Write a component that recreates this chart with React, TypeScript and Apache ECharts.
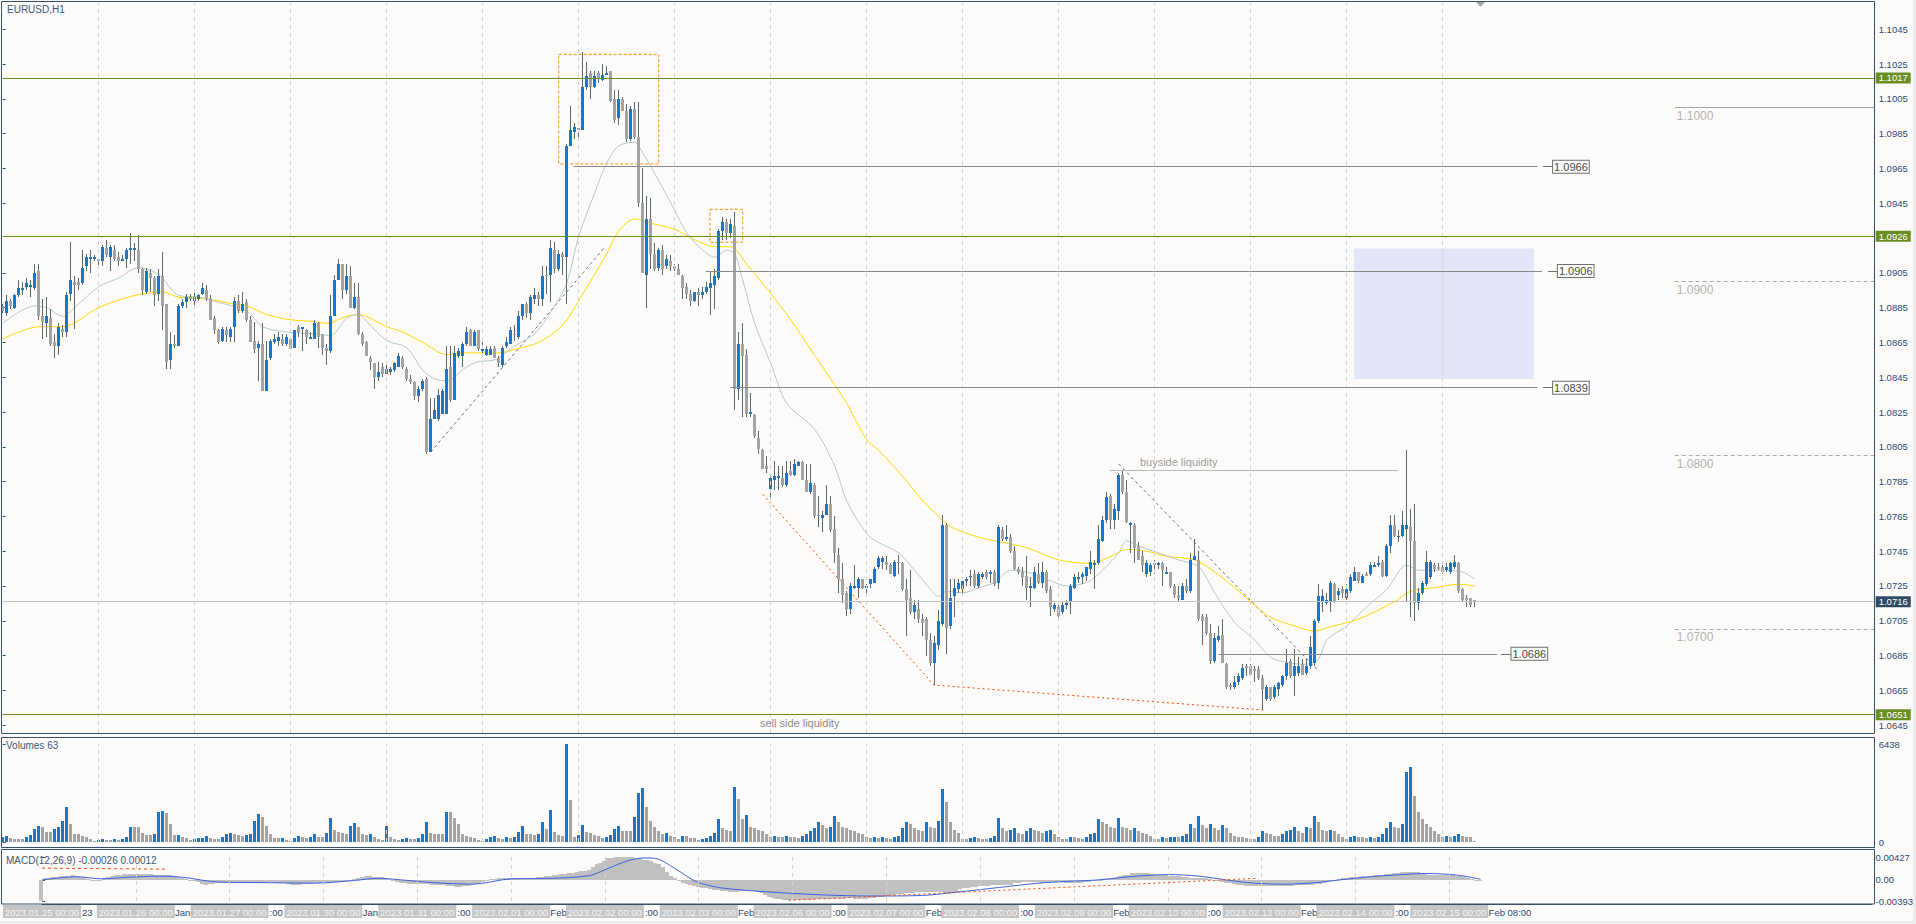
import React, { useEffect, useRef } from "react";
import * as echarts from "echarts";

// ---------------- data ----------------
const symbolTitle = "EURUSD,H1";
const dayFull = ["2023.01.25","2023.01.26","2023.01.27","2023.01.30","2023.01.31","2023.02.01","2023.02.02","2023.02.03","2023.02.06","2023.02.07","2023.02.08","2023.02.09","2023.02.10","2023.02.13","2023.02.14","2023.02.15"];
const dayShort = ["25 Jan","26 Jan","27 Jan","30 Jan","31 Jan","1 Feb","2 Feb","3 Feb","6 Feb","7 Feb","8 Feb","9 Feb","10 Feb","13 Feb","14 Feb","15 Feb"];
const firstYear = "2023";
const barsPerDay = 24;
const timeTicks = [0,16,32,48,64,80,96,112,128,144,160,176,192,208,224,240,256,272,288,304,320,336,352,368];
const dayStarts = [0,24,48,72,96,120,144,168,192,216,240,264,288,312,336,360];
// 1.0925 is hidden behind the 1.0926 level tag in the reference
const priceTicks = [1.1045,1.1025,1.1005,1.0985,1.0965,1.0945,1.0905,1.0885,1.0865,1.0845,1.0825,1.0805,1.0785,1.0765,1.0745,1.0725,1.0705,1.0685,1.0665,1.0645];
const priceMin = 1.06405, priceMax = 1.10601;
const volMax = 6438;
const macdMin = -0.00393, macdMax = 0.00427;

// [open, high, low, close] per H1 bar
const ohlc = [
[1.0886,1.0887,1.0882,1.0883],[1.0882,1.0892,1.0880,1.0889],[1.0889,1.0890,1.0884,1.0886],[1.0885,1.0893,1.0884,1.0892],[1.0892,1.0901,1.0891,1.0896],
[1.0895,1.0900,1.0892,1.0896],[1.0897,1.0902,1.0895,1.0899],[1.0897,1.0901,1.0891,1.0898],[1.0896,1.0910,1.0895,1.0905],[1.0906,1.0910,1.0878,1.0880],
[1.0880,1.0890,1.0867,1.0877],[1.0876,1.0891,1.0868,1.0880],[1.0879,1.0884,1.0863,1.0864],[1.0865,1.0870,1.0856,1.0863],[1.0863,1.0876,1.0858,1.0874],
[1.0873,1.0875,1.0868,1.0871],[1.0871,1.0894,1.0868,1.0892],[1.0893,1.0923,1.0889,1.0901],[1.0900,1.0903,1.0873,1.0898],[1.0900,1.0902,1.0895,1.0898],
[1.0899,1.0918,1.0898,1.0908],[1.0909,1.0916,1.0906,1.0914],[1.0913,1.0918,1.0905,1.0914],[1.0913,1.0915,1.0912,1.0914],[1.0913,1.0914,1.0909,1.0912],
[1.0912,1.0921,1.0909,1.0920],[1.0919,1.0924,1.0914,1.0915],[1.0914,1.0921,1.0906,1.0920],[1.0918,1.0921,1.0912,1.0913],[1.0914,1.0917,1.0909,1.0912],
[1.0912,1.0915,1.0912,1.0913],[1.0913,1.0919,1.0908,1.0918],[1.0918,1.0928,1.0910,1.0919],[1.0918,1.0922,1.0912,1.0919],[1.0918,1.0927,1.0905,1.0907],
[1.0907,1.0908,1.0892,1.0895],[1.0894,1.0908,1.0893,1.0906],[1.0905,1.0907,1.0894,1.0902],[1.0902,1.0903,1.0886,1.0892],[1.0893,1.0907,1.0889,1.0903],
[1.0903,1.0917,1.0872,1.0886],[1.0887,1.0887,1.0850,1.0854],[1.0855,1.0871,1.0850,1.0864],[1.0864,1.0869,1.0862,1.0863],[1.0863,1.0887,1.0863,1.0886],
[1.0886,1.0890,1.0885,1.0888],[1.0888,1.0893,1.0885,1.0891],[1.0891,1.0893,1.0889,1.0890],[1.0889,1.0894,1.0885,1.0891],[1.0890,1.0893,1.0889,1.0892],
[1.0893,1.0899,1.0892,1.0896],[1.0895,1.0898,1.0889,1.0890],[1.0890,1.0892,1.0878,1.0878],[1.0879,1.0880,1.0870,1.0872],[1.0872,1.0873,1.0864,1.0865],
[1.0866,1.0874,1.0865,1.0873],[1.0872,1.0874,1.0865,1.0869],[1.0868,1.0874,1.0865,1.0873],[1.0874,1.0891,1.0865,1.0889],[1.0889,1.0892,1.0882,1.0883],
[1.0883,1.0894,1.0882,1.0887],[1.0888,1.0890,1.0877,1.0878],[1.0878,1.0880,1.0865,1.0865],[1.0866,1.0877,1.0859,1.0861],[1.0862,1.0866,1.0843,1.0864],
[1.0864,1.0876,1.0837,1.0837],[1.0837,1.0866,1.0837,1.0855],[1.0856,1.0867,1.0855,1.0866],[1.0865,1.0870,1.0864,1.0867],[1.0866,1.0871,1.0863,1.0868],
[1.0867,1.0870,1.0863,1.0864],[1.0864,1.0870,1.0863,1.0868],[1.0867,1.0868,1.0861,1.0861],[1.0862,1.0872,1.0862,1.0872],[1.0874,1.0875,1.0868,1.0871],
[1.0873,1.0874,1.0860,1.0874],[1.0872,1.0873,1.0864,1.0868],[1.0867,1.0871,1.0867,1.0868],[1.0867,1.0878,1.0867,1.0876],[1.0876,1.0877,1.0862,1.0868],
[1.0869,1.0870,1.0858,1.0862],[1.0862,1.0864,1.0852,1.0860],[1.0860,1.0892,1.0859,1.0880],[1.0880,1.0904,1.0880,1.0901],[1.0901,1.0913,1.0901,1.0910],
[1.0910,1.0910,1.0890,1.0895],[1.0895,1.0910,1.0893,1.0903],[1.0903,1.0909,1.0885,1.0885],[1.0885,1.0899,1.0884,1.0891],[1.0891,1.0899,1.0869,1.0870],
[1.0870,1.0871,1.0863,1.0864],[1.0865,1.0866,1.0857,1.0857],[1.0856,1.0857,1.0849,1.0854],[1.0853,1.0853,1.0838,1.0845],[1.0845,1.0854,1.0843,1.0848],
[1.0851,1.0853,1.0845,1.0847],[1.0847,1.0852,1.0847,1.0850],[1.0848,1.0851,1.0846,1.0850],[1.0849,1.0854,1.0848,1.0853],[1.0851,1.0859,1.0851,1.0857],
[1.0856,1.0857,1.0850,1.0851],[1.0850,1.0851,1.0843,1.0844],[1.0844,1.0846,1.0841,1.0842],[1.0842,1.0843,1.0832,1.0834],[1.0834,1.0840,1.0831,1.0838],
[1.0838,1.0844,1.0837,1.0843],[1.0844,1.0845,1.0801,1.0802],[1.0802,1.0833,1.0802,1.0821],[1.0821,1.0833,1.0821,1.0826],[1.0821,1.0838,1.0820,1.0835],
[1.0824,1.0838,1.0824,1.0837],[1.0824,1.0863,1.0824,1.0850],[1.0851,1.0863,1.0831,1.0832],[1.0832,1.0863,1.0832,1.0859],[1.0857,1.0862,1.0856,1.0860],
[1.0857,1.0865,1.0851,1.0864],[1.0864,1.0874,1.0863,1.0871],[1.0872,1.0873,1.0863,1.0863],[1.0863,1.0872,1.0863,1.0871],[1.0872,1.0872,1.0860,1.0861],
[1.0860,1.0865,1.0858,1.0861],[1.0858,1.0863,1.0857,1.0861],[1.0858,1.0863,1.0858,1.0861],[1.0862,1.0863,1.0856,1.0856],[1.0856,1.0857,1.0851,1.0853],
[1.0852,1.0863,1.0851,1.0862],[1.0863,1.0868,1.0862,1.0865],[1.0864,1.0874,1.0864,1.0872],[1.0870,1.0875,1.0866,1.0869],[1.0868,1.0883,1.0867,1.0880],
[1.0880,1.0887,1.0878,1.0887],[1.0887,1.0888,1.0879,1.0882],[1.0882,1.0892,1.0878,1.0891],[1.0890,1.0896,1.0887,1.0892],[1.0892,1.0894,1.0886,1.0890],
[1.0890,1.0909,1.0886,1.0903],[1.0904,1.0909,1.0893,1.0903],[1.0904,1.0924,1.0888,1.0919],[1.0918,1.0923,1.0905,1.0907],[1.0907,1.0918,1.0906,1.0916],
[1.0916,1.0917,1.0904,1.0914],[1.0914,1.0979,1.0887,1.0978],[1.0978,1.1001,1.0978,1.0987],[1.0986,1.0991,1.0982,1.0989],[1.0988,1.0988,1.0982,1.0987],
[1.0987,1.1032,1.0987,1.1012],[1.1012,1.1026,1.1010,1.1018],[1.1020,1.1021,1.1005,1.1012],[1.1012,1.1021,1.1011,1.1018],[1.1020,1.1021,1.1014,1.1017],
[1.1016,1.1025,1.1015,1.1019],[1.1019,1.1024,1.1019,1.1020],[1.1021,1.1021,1.1003,1.1004],[1.1005,1.1010,1.0991,1.0993],[1.0994,1.1010,1.0990,1.1005],
[1.1005,1.1006,1.0998,1.0998],[1.0998,1.1002,1.0980,1.0982],[1.0982,1.1001,1.0981,1.0999],[1.0999,1.1003,1.0982,1.0983],[1.0983,1.1003,1.0943,1.0945],
[1.0945,1.0965,1.0905,1.0905],[1.0904,1.0949,1.0885,1.0936],[1.0936,1.0948,1.0907,1.0916],[1.0916,1.0922,1.0906,1.0907],[1.0908,1.0919,1.0906,1.0918],
[1.0918,1.0921,1.0904,1.0907],[1.0909,1.0915,1.0907,1.0913],[1.0912,1.0915,1.0906,1.0909],[1.0909,1.0910,1.0906,1.0907],[1.0907,1.0910,1.0904,1.0904],
[1.0903,1.0904,1.0890,1.0896],[1.0897,1.0899,1.0890,1.0893],[1.0893,1.0895,1.0886,1.0889],[1.0889,1.0894,1.0888,1.0894],[1.0894,1.0896,1.0886,1.0892],
[1.0892,1.0897,1.0890,1.0894],[1.0894,1.0900,1.0893,1.0897],[1.0896,1.0906,1.0881,1.0899],[1.0898,1.0907,1.0884,1.0903],[1.0902,1.0930,1.0901,1.0929],
[1.0929,1.0937,1.0924,1.0934],[1.0934,1.0936,1.0924,1.0928],[1.0928,1.0936,1.0925,1.0933],[1.0932,1.0940,1.0826,1.0838],[1.0838,1.0871,1.0832,1.0864],
[1.0864,1.0876,1.0822,1.0857],[1.0858,1.0861,1.0822,1.0824],[1.0824,1.0836,1.0822,1.0825],[1.0823,1.0824,1.0810,1.0811],[1.0810,1.0814,1.0801,1.0804],
[1.0803,1.0804,1.0792,1.0792],[1.0794,1.0800,1.0790,1.0792],[1.0781,1.0790,1.0776,1.0787],[1.0786,1.0797,1.0780,1.0788],[1.0787,1.0794,1.0780,1.0788],
[1.0787,1.0794,1.0782,1.0783],[1.0783,1.0797,1.0782,1.0790],[1.0791,1.0797,1.0788,1.0789],[1.0789,1.0798,1.0788,1.0795],[1.0794,1.0797,1.0794,1.0796],
[1.0796,1.0797,1.0786,1.0786],[1.0786,1.0795,1.0779,1.0779],[1.0779,1.0795,1.0778,1.0784],[1.0783,1.0784,1.0764,1.0765],[1.0766,1.0777,1.0759,1.0765],
[1.0764,1.0768,1.0756,1.0766],[1.0766,1.0783,1.0766,1.0772],[1.0772,1.0777,1.0756,1.0757],[1.0758,1.0765,1.0738,1.0744],[1.0743,1.0747,1.0721,1.0729],
[1.0729,1.0738,1.0715,1.0720],[1.0721,1.0722,1.0708,1.0712],[1.0712,1.0727,1.0709,1.0725],[1.0724,1.0737,1.0723,1.0725],[1.0724,1.0730,1.0718,1.0729],
[1.0729,1.0729,1.0723,1.0724],[1.0724,1.0726,1.0720,1.0725],[1.0726,1.0729,1.0724,1.0729],[1.0727,1.0736,1.0727,1.0735],[1.0736,1.0742,1.0735,1.0741],
[1.0739,1.0742,1.0735,1.0741],[1.0739,1.0742,1.0734,1.0737],[1.0737,1.0738,1.0732,1.0732],[1.0731,1.0740,1.0730,1.0739],[1.0739,1.0743,1.0732,1.0738],
[1.0738,1.0739,1.0722,1.0723],[1.0723,1.0729,1.0696,1.0717],[1.0718,1.0734,1.0709,1.0710],[1.0710,1.0717,1.0706,1.0714],[1.0712,1.0717,1.0704,1.0706],
[1.0706,1.0709,1.0696,1.0704],[1.0706,1.0707,1.0685,1.0694],[1.0694,1.0698,1.0679,1.0681],[1.0681,1.0696,1.0668,1.0692],[1.0691,1.0711,1.0688,1.0705],
[1.0703,1.0766,1.0702,1.0760],[1.0760,1.0761,1.0686,1.0701],[1.0702,1.0729,1.0700,1.0718],[1.0719,1.0729,1.0707,1.0724],[1.0723,1.0729,1.0721,1.0727],
[1.0723,1.0730,1.0720,1.0728],[1.0728,1.0730,1.0725,1.0729],[1.0730,1.0734,1.0725,1.0731],[1.0732,1.0734,1.0724,1.0725],[1.0725,1.0733,1.0724,1.0732],
[1.0730,1.0733,1.0729,1.0732],[1.0733,1.0734,1.0729,1.0730],[1.0732,1.0734,1.0727,1.0733],[1.0733,1.0734,1.0725,1.0726],[1.0727,1.0760,1.0723,1.0759],
[1.0757,1.0759,1.0751,1.0752],[1.0752,1.0760,1.0751,1.0753],[1.0753,1.0755,1.0744,1.0745],[1.0745,1.0748,1.0734,1.0735],[1.0735,1.0736,1.0732,1.0733],
[1.0733,1.0736,1.0725,1.0730],[1.0731,1.0742,1.0717,1.0724],[1.0724,1.0730,1.0713,1.0725],[1.0724,1.0736,1.0723,1.0733],[1.0732,1.0738,1.0726,1.0727],
[1.0727,1.0739,1.0724,1.0733],[1.0733,1.0734,1.0721,1.0722],[1.0723,1.0725,1.0708,1.0713],[1.0712,1.0715,1.0710,1.0714],[1.0713,1.0714,1.0707,1.0708],
[1.0710,1.0716,1.0709,1.0714],[1.0714,1.0717,1.0712,1.0715],[1.0716,1.0726,1.0709,1.0725],[1.0724,1.0732,1.0723,1.0730],[1.0729,1.0733,1.0727,1.0730],
[1.0730,1.0733,1.0726,1.0732],[1.0731,1.0736,1.0728,1.0736],[1.0735,1.0745,1.0732,1.0739],[1.0737,1.0740,1.0723,1.0738],[1.0738,1.0760,1.0737,1.0752],
[1.0751,1.0765,1.0750,1.0763],[1.0763,1.0779,1.0761,1.0776],[1.0777,1.0778,1.0758,1.0763],[1.0763,1.0772,1.0758,1.0769],[1.0768,1.0790,1.0763,1.0789],
[1.0789,1.0791,1.0778,1.0779],[1.0779,1.0786,1.0761,1.0762],[1.0760,1.0762,1.0744,1.0761],[1.0760,1.0761,1.0738,1.0747],[1.0748,1.0750,1.0740,1.0740],
[1.0742,1.0745,1.0733,1.0737],[1.0732,1.0740,1.0730,1.0738],[1.0733,1.0738,1.0731,1.0737],[1.0738,1.0740,1.0732,1.0737],[1.0737,1.0739,1.0735,1.0738],
[1.0738,1.0739,1.0725,1.0734],[1.0732,1.0736,1.0732,1.0733],[1.0733,1.0733,1.0724,1.0725],[1.0725,1.0726,1.0718,1.0720],[1.0720,1.0725,1.0716,1.0718],
[1.0717,1.0727,1.0717,1.0725],[1.0725,1.0729,1.0721,1.0722],[1.0722,1.0744,1.0721,1.0740],[1.0740,1.0752,1.0740,1.0742],[1.0740,1.0745,1.0705,1.0706],
[1.0708,1.0709,1.0691,1.0705],[1.0707,1.0709,1.0697,1.0698],[1.0698,1.0703,1.0680,1.0682],[1.0682,1.0698,1.0681,1.0695],[1.0694,1.0702,1.0693,1.0696],
[1.0697,1.0706,1.0681,1.0681],[1.0680,1.0681,1.0666,1.0667],[1.0668,1.0669,1.0665,1.0667],[1.0667,1.0673,1.0666,1.0670],[1.0670,1.0675,1.0668,1.0673],
[1.0672,1.0680,1.0671,1.0678],[1.0679,1.0680,1.0673,1.0678],[1.0679,1.0680,1.0673,1.0674],[1.0677,1.0679,1.0670,1.0676],[1.0677,1.0679,1.0671,1.0672],
[1.0672,1.0674,1.0654,1.0666],[1.0660,1.0668,1.0659,1.0667],[1.0667,1.0667,1.0659,1.0660],[1.0661,1.0668,1.0660,1.0667],[1.0666,1.0670,1.0662,1.0669],
[1.0668,1.0674,1.0667,1.0673],[1.0673,1.0689,1.0671,1.0681],[1.0682,1.0683,1.0672,1.0673],[1.0673,1.0689,1.0662,1.0679],[1.0675,1.0684,1.0673,1.0679],
[1.0680,1.0683,1.0674,1.0674],[1.0675,1.0683,1.0674,1.0679],[1.0679,1.0696,1.0677,1.0690],[1.0681,1.0706,1.0679,1.0705],[1.0705,1.0726,1.0704,1.0719],
[1.0716,1.0723,1.0710,1.0719],[1.0715,1.0721,1.0714,1.0717],[1.0716,1.0728,1.0710,1.0727],[1.0726,1.0727,1.0715,1.0716],[1.0720,1.0724,1.0717,1.0722],
[1.0723,1.0725,1.0718,1.0721],[1.0718,1.0726,1.0717,1.0723],[1.0722,1.0732,1.0721,1.0730],[1.0728,1.0736,1.0728,1.0733],[1.0733,1.0733,1.0727,1.0728],
[1.0727,1.0732,1.0727,1.0731],[1.0732,1.0733,1.0731,1.0731],[1.0732,1.0739,1.0731,1.0737],[1.0736,1.0739,1.0736,1.0737],[1.0737,1.0742,1.0736,1.0738],
[1.0739,1.0740,1.0730,1.0731],[1.0731,1.0749,1.0730,1.0748],[1.0748,1.0766,1.0744,1.0760],[1.0760,1.0766,1.0753,1.0754],[1.0753,1.0757,1.0750,1.0754],
[1.0754,1.0768,1.0753,1.0760],[1.0758,1.0803,1.0716,1.0760],[1.0759,1.0769,1.0707,1.0751],[1.0751,1.0772,1.0705,1.0715],[1.0715,1.0724,1.0711,1.0721],
[1.0721,1.0728,1.0720,1.0727],[1.0726,1.0745,1.0725,1.0739],[1.0730,1.0740,1.0729,1.0739],[1.0737,1.0738,1.0733,1.0735],[1.0736,1.0738,1.0734,1.0735],
[1.0736,1.0738,1.0732,1.0733],[1.0734,1.0738,1.0733,1.0736],[1.0733,1.0739,1.0732,1.0738],[1.0736,1.0743,1.0735,1.0739],[1.0738,1.0739,1.0721,1.0722],
[1.0723,1.0724,1.0716,1.0717],[1.0718,1.0720,1.0713,1.0717],[1.0718,1.0718,1.0713,1.0714],[1.0717,1.0717,1.0713,1.0716]
];

const volumes = [
320,380,260,175,175,175,320,440,850,1080, 965,670,670,850,965,1350,2310,1200,527,500,
410,320,205,90,120,175,150,150,175,150, 205,320,965,965,965,615,470,440,527,1990,
2050,1930,1200,440,470,320,235,120,205,235, 260,380,260,205,205,320,555,615,555,440,
380,440,527,1400,1870,1610,1050,555,260,235, 260,150,90,260,380,320,235,320,555,320,
320,615,1550,760,670,615,555,1050,1260,965, 555,440,500,320,205,150,1050,320,205,150,
205,235,205,205,260,555,1320,615,555,500, 500,1990,1990,1580,1200,500,380,350,260,150,
90,175,320,380,260,205,320,235,320,670, 1050,555,555,470,555,1290,880,2080,670,440,
380,6438,2780,320,470,1110,670,615,470,380, 260,320,440,850,1020,730,730,730,1640,3190,
3540,2310,1400,965,730,555,615,380,320,175, 380,380,260,260,150,200,250,400,600,1500,
900,800,700,3600,2800,1500,1800,1000,900,800, 700,500,300,400,350,300,400,350,300,250,
400,500,700,900,1300,1100,900,1000,1700,1300, 1000,900,800,700,600,500,300,250,300,250,
300,250,200,300,400,900,1300,1200,900,800, 700,1300,1000,900,1400,3500,2600,1300,800,600,
200,200,250,300,250,200,200,250,400,1600, 900,700,800,900,600,500,700,900,800,700,
600,700,800,500,300,200,200,300,300,250, 200,300,500,600,1500,1300,1200,1000,900,1600,
1000,900,800,900,700,600,500,400,200,200, 300,250,300,350,300,400,500,1200,900,1700,
1100,900,1200,900,800,1100,900,600,400,300, 300,250,200,200,300,700,600,500,400,400,
500,700,800,1000,700,600,1000,900,1700,1300, 800,700,800,700,500,300,200,300,400,300,
300,250,300,250,300,500,900,1300,1000,900, 1200,4600,4900,3000,2000,1500,1200,1000,700,500,
300,400,350,400,500,400,350,300,63
];

// MACD(12,26,9) main line (histogram) per bar
const macdMain = [
-0.0039,0.0003,0.0004,0.0005,0.0006,0.0007,0.0008,0.0008,0.0009,0.0008,
0.0006,0.0003,0.0001,-0.0001,-0.0001,0.0000,0.0003,0.0006,0.0008,0.0009,
0.0010,0.0011,0.0011,0.0011,0.0011,0.0011,0.0011,0.0011,0.0011,0.0010,
0.0010,0.0009,0.0009,0.0009,0.0008,0.0006,0.0004,0.0002,0.0000,-0.0002,
-0.0004,-0.0007,-0.0009,-0.0008,-0.0007,-0.0006,-0.0005,-0.0005,-0.0005,-0.0005,
-0.0005,-0.0005,-0.0005,-0.0006,-0.0006,-0.0006,-0.0005,-0.0005,-0.0004,-0.0004,
-0.0005,-0.0005,-0.0006,-0.0008,-0.0010,-0.0010,-0.0009,-0.0008,-0.0007,-0.0007,
-0.0006,-0.0006,-0.0006,-0.0005,-0.0005,-0.0004,-0.0004,-0.0004,-0.0003,-0.0001,
0.0002,0.0004,0.0006,0.0007,0.0007,0.0006,0.0006,0.0005,0.0003,0.0001,
-0.0001,-0.0003,-0.0005,-0.0006,-0.0007,-0.0007,-0.0008,-0.0008,-0.0008,-0.0008,
-0.0009,-0.0009,-0.0010,-0.0010,-0.0011,-0.0012,-0.0013,-0.0013,-0.0012,-0.0011,
-0.0010,-0.0007,-0.0005,-0.0003,-0.0001,0.0001,0.0002,0.0003,0.0003,0.0003,
0.0003,0.0003,0.0003,0.0003,0.0003,0.0004,0.0004,0.0005,0.0006,0.0007,
0.0008,0.0009,0.0010,0.0011,0.0011,0.0012,0.0013,0.0015,0.0016,0.0017,
0.0018,0.0024,0.0029,0.0032,0.0035,0.0040,0.0041,0.0042,0.00427,0.00427,
0.00427,0.0042,0.0041,0.0040,0.0038,0.0037,0.0035,0.0032,0.0029,0.0024,
0.0015,0.0008,0.0003,-0.0002,-0.0005,-0.0008,-0.0010,-0.0012,-0.0014,-0.0015,
-0.0016,-0.0017,-0.0018,-0.0019,-0.0020,-0.0021,-0.0022,-0.0022,-0.0022,-0.0021,
-0.0020,-0.0020,-0.0020,-0.0023,-0.0025,-0.0028,-0.0031,-0.0033,-0.0035,-0.0036,
-0.0037,-0.0038,-0.0038,-0.0038,-0.0038,-0.0038,-0.0037,-0.0037,-0.0036,-0.0035,
-0.0035,-0.0035,-0.0035,-0.0035,-0.0035,-0.0035,-0.0034,-0.0034,-0.0035,-0.0035,
-0.0035,-0.0035,-0.0034,-0.0033,-0.0032,-0.0031,-0.0030,-0.0029,-0.0028,-0.0027,
-0.0026,-0.0025,-0.0025,-0.0024,-0.0023,-0.0023,-0.0023,-0.0023,-0.0023,-0.0023,
-0.0023,-0.0024,-0.0025,-0.0025,-0.0023,-0.0017,-0.0016,-0.0015,-0.0014,-0.0013,
-0.0012,-0.0011,-0.0011,-0.0010,-0.0010,-0.0009,-0.0009,-0.0009,-0.0009,-0.0006,
-0.0005,-0.0004,-0.0004,-0.0004,-0.0004,-0.0004,-0.0005,-0.0005,-0.0004,-0.0004,
-0.0004,-0.0004,-0.0005,-0.0005,-0.0005,-0.0005,-0.0005,-0.0004,-0.0003,-0.0002,
-0.0001,0.0000,0.0001,0.0002,0.0004,0.0006,0.0008,0.0009,0.0010,0.0012,
0.0013,0.0013,0.0012,0.0012,0.0011,0.0010,0.0010,0.0009,0.0009,0.0008,
0.0008,0.0007,0.0006,0.0005,0.0004,0.0004,0.0003,0.0004,0.0004,0.0001,
-0.0001,-0.0002,-0.0004,-0.0005,-0.0006,-0.0007,-0.0009,-0.0010,-0.0011,-0.0011,
-0.0011,-0.0011,-0.0011,-0.0011,-0.0011,-0.0012,-0.0012,-0.0012,-0.0012,-0.0011,
-0.0011,-0.0010,-0.0010,-0.0009,-0.0009,-0.0009,-0.0008,-0.0007,-0.0005,-0.0003,
-0.0001,0.0000,0.0002,0.0003,0.0004,0.0005,0.0005,0.0006,0.0007,0.0008,
0.0008,0.0009,0.0010,0.0010,0.0011,0.0011,0.0012,0.0013,0.0014,0.0014,
0.0015,0.0015,0.0014,0.0012,0.0011,0.0010,0.0010,0.0010,0.0009,0.0009,
0.0009,0.0009,0.0008,0.0008,0.0006,0.0004,0.0002,0.0000,-0.00026
];

// MACD signal line, read at [bar, value]
const macdSignal = [
[0,0.0000],[9,0.0006],[15,0.0002],[22,0.0005],[30,0.0007],[36,0.0005],[45,-0.0004],[55,-0.0005],[70,-0.0006],[80,-0.0001],
[86,0.0003],[92,0.0000],[100,-0.0005],[110,-0.0008],[120,0.0002],[130,0.0003],[140,0.0008],[145,0.0022],[150,0.0036],[154,0.0041],
[157,0.0040],[162,0.0021],[167,-0.0002],[171,-0.0011],[175,-0.0016],[185,-0.0022],[200,-0.0028],[212,-0.0030],[225,-0.0029],[235,-0.0022],
[245,-0.0014],[255,-0.0006],[262,-0.0003],[270,0.0000],[280,0.0007],[288,0.0010],[296,0.0007],[303,0.0000],[310,-0.0006],[318,-0.0008],
[326,-0.0005],[332,0.0000],[340,0.0006],[348,0.0010],[354,0.0012],[362,0.0009],[368,0.00012]
];

// moving averages read at [bar, price]
const maSlow = [
[0,1.0867],[9,1.0874],[15,1.0874],[24,1.0885],[33,1.0892],[40,1.0894],[44,1.0891],[51,1.0890],[58,1.0887],[61,1.0886],
[66,1.0881],[72,1.0878],[78,1.0877],[81,1.0876],[86,1.0880],[89,1.0881],[96,1.0874],[100,1.0871],[105,1.0865],[111,1.0858],
[116,1.0859],[124,1.0859],[128,1.0861],[134,1.0865],[140,1.0875],[144,1.0889],[151,1.0916],[154,1.0929],[158,1.0936],[163,1.0933],
[168,1.0930],[173,1.0924],[178,1.0920],[182,1.0920],[186,1.0910],[192,1.0893],[197,1.0878],[202,1.0861],[207,1.0844],[211,1.0830],
[216,1.0809],[219,1.0803],[225,1.0788],[230,1.0774],[234,1.0765],[237,1.0759],[244,1.0753],[248,1.0751],[256,1.0747],[264,1.0740],
[272,1.0738],[277,1.0742],[281,1.0746],[286,1.0745],[291,1.0742],[298,1.0740],[303,1.0733],[308,1.0724],[312,1.0716],[317,1.0707],
[323,1.0702],[328,1.0699],[331,1.0701],[339,1.0706],[348,1.0716],[352,1.0722],[358,1.0724],[364,1.0726],[368,1.0725]
];
const maFast = [
[0,1.0876],[8,1.0886],[11,1.0885],[15,1.0880],[18,1.0885],[24,1.0897],[29,1.0902],[34,1.0908],[39,1.0904],[44,1.0892],
[49,1.0891],[54,1.0888],[61,1.0883],[65,1.0874],[71,1.0871],[77,1.0870],[82,1.0869],[86,1.0879],[89,1.0881],[91,1.0877],
[96,1.0866],[101,1.0862],[105,1.0849],[108,1.0844],[111,1.0843],[116,1.0851],[119,1.0854],[123,1.0855],[128,1.0863],[133,1.0870],
[138,1.0886],[141,1.0899],[144,1.0926],[148,1.0951],[151,1.0968],[154,1.0978],[158,1.0980],[160,1.0974],[164,1.0958],[168,1.0941],
[171,1.0928],[175,1.0918],[178,1.0914],[181,1.0918],[183,1.0916],[185,1.0901],[188,1.0876],[192,1.0853],[196,1.0830],[203,1.0815],
[208,1.0794],[211,1.0774],[216,1.0755],[219,1.0750],[224,1.0744],[228,1.0734],[232,1.0723],[234,1.0719],[236,1.0722],[240,1.0721],
[244,1.0724],[248,1.0727],[252,1.0734],[256,1.0733],[262,1.0728],[266,1.0725],[271,1.0727],[274,1.0732],[279,1.0744],[281,1.0751],
[284,1.0748],[289,1.0744],[294,1.0740],[299,1.0736],[303,1.0721],[308,1.0704],[313,1.0694],[317,1.0684],[321,1.0681],[326,1.0680],
[329,1.0683],[331,1.0694],[336,1.0702],[341,1.0713],[346,1.0723],[351,1.0737],[354,1.0734],[360,1.0734],[365,1.0733],[368,1.0729]
];

// drawn objects (bar index, price)
const greenLevels = [1.1017, 1.0926, 1.0651];
const bidLevel = 1.0716;
const roundLevels = [1.1, 1.09, 1.08, 1.07];
const roundLevelFrom = 418;
const taggedLevels = [
  { price: 1.0966, from: 142.7, to: 383.7, tickFrom: 385.1, tag: 387.6 },
  { price: 1.0906, from: 175.8, to: 384.8, tickFrom: 386.3, tag: 388.8 },
  { price: 1.0839, from: 181.9, to: 383.7, tickFrom: 385.1, tag: 387.6 },
  { price: 1.0686, from: 303.9, to: 373.6, tickFrom: 374.6, tag: 377.2 },
];
const buysideLevel = { price: 1.07915, from: 276.8, to: 348.8, text: "buyside liquidity", textAt: 284.3 };
const sellsideText = { price: 1.0651, at: 189.3, text: "sell side liquidity" };
const trendUp = [[107, 1.0802], [150.6, 1.0920]];
const trendDown = [[279, 1.07951], [328.9, 1.06763]];
const sellsideTrend = [[190, 1.07777], [232.8, 1.06681], [315.2, 1.06537]];
const orangeBoxes = [[[139, 1.10306], [164, 1.09676]], [[176.8, 1.09415], [185, 1.09226]]];
const zoneBox = [[337.8, 1.0919], [382.8, 1.0844]];
const macdDivA = [[0, 0.0022], [32, 0.0020]];
const macdDivB = [[191, -0.0038], [311, 0.0003]];
const volumeLabel = "Volumes 63";
const macdLabel = "MACD(12,26,9) -0.00026 0.00012";

// ---------------- styles ----------------
const BG = "#fdfbfa";
const UP = "#1f74c4";
const DOWN = "#a3a3a3";
const WICK = "#56696c";
const FRAME = "#34506a";
const AXTXT = "#2b4a69";
const GREEN = "#6b8e23";
const FONT = "'Liberation Sans', Arial, sans-serif";

const pad2 = (n: number) => String(n).padStart(2, "0");

// the MT4 time labels are mostly hidden under the grey day boxes: only the visible part is drawn
function timeLabel(v: number) {
  const i = Math.round(v);
  const last = ohlc.length - 1;
  if (i > last) return "";
  const k = Math.round(i / 16);
  const d = Math.floor(i / barsPerDay);
  const hh = i % barsPerDay;
  const month = dayShort[d].split(" ")[1];
  if (i === last) return "{m|" + month + " " + pad2(hh) + ":00}";
  if (i === 0) return "{e|" + firstYear.slice(2) + "}";
  if (k % 3 === 0) return "{e|:" + pad2(0) + "}";
  if (k % 3 === 2) return "{m|" + month + "}";
  return "";
}

function renderCandle(params: any, api: any) {
  const i = api.value(0);
  const o = api.value(1), h = api.value(2), l = api.value(3), c = api.value(4);
  const po = api.coord([i, o]);
  const pc = api.coord([i, c]);
  const ph = api.coord([i, h]);
  const pl = api.coord([i, l]);
  const px = Math.floor(po[0]);
  const top = Math.round(Math.min(po[1], pc[1]));
  let bot = Math.round(Math.max(po[1], pc[1]));
  if (bot - top < 1) bot = top + 1;
  const up = c >= o;
  return {
    type: "group",
    children: [
      { type: "rect", shape: { x: px, y: Math.round(ph[1]), width: 1, height: Math.max(1, Math.round(pl[1]) - Math.round(ph[1])) }, style: { fill: WICK } },
      { type: "rect", shape: { x: px - 1, y: top, width: 3, height: bot - top }, style: { fill: up ? UP : DOWN } },
    ],
  };
}

function renderVolume(params: any, api: any) {
  const i = api.value(0);
  const v = api.value(1);
  const rising = api.value(2);
  const p0 = api.coord([i, 0]);
  const p1 = api.coord([i, v]);
  const px = Math.floor(p0[0]);
  const top = Math.round(p1[1]);
  const bot = Math.round(p0[1]);
  return { type: "rect", shape: { x: px - 1, y: top, width: 3, height: Math.max(1, bot - top) }, style: { fill: rising ? UP : DOWN } };
}

function renderHist(params: any, api: any) {
  const i = api.value(0);
  const v = api.value(1);
  const p0 = api.coord([i, 0]);
  const p1 = api.coord([i, v]);
  const px = Math.floor(p0[0]);
  const y0 = Math.round(Math.min(p0[1], p1[1]));
  const y1 = Math.round(Math.max(p0[1], p1[1]));
  return { type: "rect", shape: { x: px - 2, y: y0, width: 4, height: Math.max(1, y1 - y0) }, style: { fill: "#c0c0c0" } };
}

function buildOption() {
  const candleData = ohlc.map((r, i) => [i, r[0], r[1], r[2], r[3]]);
  const volData = volumes.map((v, i) => [i, v, i === 0 || v > volumes[i - 1] ? 1 : 0]);
  const histData = macdMain.map((v, i) => [i, v]);
  const vGrid = dayStarts.filter((d) => d > 0).map((d) => ({ xAxis: d }));
  const gridLineStyle = { color: "#d3d3d3", type: [4, 4], width: 1 };
  const noSym = ["none", "none"];

  const tagLabel = (txt: string, bg: string) => ({
    show: true, position: "end", distance: 1, formatter: txt, backgroundColor: bg, color: "#ffffff",
    padding: [1, 3, 0, 3], lineHeight: 10, fontSize: 9.5, fontFamily: FONT,
  });

  const levelLines: any[] = greenLevels.map((p) => ({
    yAxis: p, lineStyle: { color: GREEN, width: 1, type: "solid" }, label: tagLabel(p.toFixed(4), GREEN),
  }));
  levelLines.push({ yAxis: bidLevel, lineStyle: { color: "#c2c2c2", width: 1, type: "solid" }, label: tagLabel(bidLevel.toFixed(4), "#2f4c66") });

  const partialLines: any[] = [];
  taggedLevels.forEach((t) => {
    partialLines.push([{ coord: [t.from, t.price], lineStyle: { color: "#8a8a8a", width: 1, type: "solid" } }, { coord: [t.to, t.price] }]);
    partialLines.push([{ coord: [t.tickFrom, t.price], lineStyle: { color: "#6e6e6e", width: 1, type: "solid" } }, { coord: [t.tag, t.price] }]);
  });
  partialLines.push([{ coord: [buysideLevel.from, buysideLevel.price], lineStyle: { color: "#b8b8b8", width: 1, type: "solid" } }, { coord: [buysideLevel.to, buysideLevel.price] }]);
  roundLevels.forEach((p, k) => {
    partialLines.push([{ coord: [roundLevelFrom, p], lineStyle: { color: "#a8a8a8", width: 1, type: k === 0 ? "solid" : [4, 3] } }, { coord: [468, p] }]);
  });

  const textPoints: any[] = [];
  taggedLevels.forEach((t) => {
    textPoints.push({
      coord: [t.tag, t.price], symbolSize: 0,
      label: { show: true, position: "right", distance: 0, formatter: t.price.toFixed(4), color: "#4a4a4a", fontSize: 11, fontFamily: FONT,
        backgroundColor: BG, borderColor: "#6e6e6e", borderWidth: 1, padding: [1, 1, 0, 1] },
    });
  });
  roundLevels.forEach((p) => {
    textPoints.push({ coord: [roundLevelFrom + 0.5, p], symbolSize: 0,
      label: { show: true, position: "right", distance: 0, offset: [0, 8], formatter: p.toFixed(4), color: "#b2b2b2", fontSize: 12, fontFamily: FONT } });
  });
  textPoints.push({ coord: [buysideLevel.textAt, buysideLevel.price], symbolSize: 0,
    label: { show: true, position: "right", distance: 0, offset: [0, -8], formatter: buysideLevel.text, color: "#9c9c9c", fontSize: 11, fontFamily: FONT } });
  textPoints.push({ coord: [sellsideText.at, sellsideText.price], symbolSize: 0,
    label: { show: true, position: "right", distance: 0, offset: [0, 8], formatter: sellsideText.text, color: "#8c8c8c", fontSize: 11, fontFamily: FONT } });

  const areas: any[] = orangeBoxes.map((b) => [
    { coord: b[0], itemStyle: { color: "rgba(0,0,0,0)", borderColor: "#ff8c00", borderWidth: 1, borderType: [3, 2] } },
    { coord: b[1] },
  ]);
  areas.unshift([{ coord: zoneBox[0], itemStyle: { color: "#e2e4f8" } }, { coord: zoneBox[1] }]);

  const lineBase = { type: "line", showSymbol: false, silent: true, animation: false };
  const richTxt = { color: AXTXT, fontSize: 9.5, fontFamily: FONT };

  return {
    animation: false,
    backgroundColor: BG,
    textStyle: { fontFamily: FONT },
    grid: [
      { left: 2.7, top: 3, width: 1872, height: 730 },
      { left: 2.7, top: 744, width: 1872, height: 98 },
      { left: 2.7, top: 857, width: 1872, height: 44 },
    ],
    xAxis: [
      { type: "value", gridIndex: 0, min: 0, max: 468, show: false },
      { type: "value", gridIndex: 1, min: 0, max: 468, show: false },
      {
        type: "value", gridIndex: 2, min: 0, max: 468, position: "bottom", offset: 3,
        axisLine: { show: true, onZero: false, lineStyle: { color: FRAME, width: 1 } },
        axisTick: { show: true, customValues: timeTicks, length: 4, lineStyle: { color: FRAME } },
        axisLabel: {
          show: true, customValues: timeTicks, formatter: timeLabel, align: "left", margin: 3, color: AXTXT, fontSize: 9.5, fontFamily: FONT,
          showMinLabel: true, showMaxLabel: true,
          rich: { e: { ...richTxt, padding: [0, 0, 0, 40] }, m: { ...richTxt, padding: [0, 0, 0, 8] } },
        },
        splitLine: { show: false },
      },
      {
        type: "value", gridIndex: 2, min: 0, max: 468, position: "bottom", offset: 3, z: 6,
        axisLine: { show: false, onZero: false }, axisTick: { show: false },
        axisLabel: { show: true, customValues: dayStarts, formatter: (v: number) => dayFull[Math.round(v / barsPerDay)] + " 00:00", align: "center", margin: 1,
          color: "#f6f6f6", backgroundColor: "#c5c5c5", padding: [2, 2, 1, 2], fontSize: 9.5, fontFamily: FONT, showMinLabel: true },
        splitLine: { show: false },
      },
    ],
    yAxis: [
      {
        type: "value", gridIndex: 0, position: "right", min: priceMin, max: priceMax,
        axisLine: { show: false },
        axisTick: { show: true, customValues: priceTicks, length: 3, lineStyle: { color: FRAME } },
        axisLabel: { show: true, customValues: priceTicks, formatter: (v: number) => v.toFixed(4), color: AXTXT, fontSize: 9.5, fontFamily: FONT, margin: 4 },
        splitLine: { show: false },
      },
      {
        type: "value", gridIndex: 1, position: "right", min: 0, max: volMax,
        axisLine: { show: false },
        axisTick: { show: true, customValues: [0, volMax], length: 3, lineStyle: { color: FRAME } },
        axisLabel: { show: true, customValues: [0, volMax], formatter: (v: number) => String(v), color: AXTXT, fontSize: 9.5, fontFamily: FONT, margin: 4 },
        splitLine: { show: false },
      },
      {
        type: "value", gridIndex: 2, position: "right", min: macdMin, max: macdMax,
        axisLine: { show: false },
        axisTick: { show: true, customValues: [macdMin, 0, macdMax], length: 3, lineStyle: { color: FRAME } },
        axisLabel: { show: true, customValues: [macdMin, 0, macdMax], formatter: (v: number) => (v === 0 ? "0.00" : v.toFixed(5)), color: AXTXT, fontSize: 9.5, fontFamily: FONT, margin: 4 },
        splitLine: { show: false },
      },
    ],
    series: [
      // vertical day separators
      { ...lineBase, name: "gridP", xAxisIndex: 0, yAxisIndex: 0, data: [], z: 1,
        markLine: { silent: true, symbol: noSym, precision: 6, animation: false, label: { show: false }, lineStyle: gridLineStyle, data: vGrid } },
      { ...lineBase, name: "gridV", xAxisIndex: 1, yAxisIndex: 1, data: [], z: 1,
        markLine: { silent: true, symbol: noSym, precision: 6, animation: false, label: { show: false }, lineStyle: gridLineStyle, data: vGrid } },
      { ...lineBase, name: "gridM", xAxisIndex: 2, yAxisIndex: 2, data: [], z: 1,
        markLine: { silent: true, symbol: noSym, precision: 6, animation: false, label: { show: false }, lineStyle: gridLineStyle, data: vGrid } },
      // zones
      { ...lineBase, name: "zones", xAxisIndex: 0, yAxisIndex: 0, data: [], z: 1,
        markArea: { silent: true, animation: false, data: areas } },
      // levels
      { ...lineBase, name: "levels", xAxisIndex: 0, yAxisIndex: 0, data: [], z: 2,
        markLine: { silent: true, symbol: noSym, precision: 6, animation: false, data: levelLines } },
      { ...lineBase, name: "partial", xAxisIndex: 0, yAxisIndex: 0, data: [], z: 2,
        markLine: { silent: true, symbol: noSym, precision: 6, animation: false, label: { show: false }, data: partialLines },
        markPoint: { silent: true, animation: false, symbol: "circle", symbolSize: 0, data: textPoints } },
      // trend lines
      { ...lineBase, name: "trendUp", xAxisIndex: 0, yAxisIndex: 0, data: trendUp, z: 2, lineStyle: { color: "#6f6f6f", width: 1, type: [3, 3] } },
      { ...lineBase, name: "trendDown", xAxisIndex: 0, yAxisIndex: 0, data: trendDown, z: 2, lineStyle: { color: "#6f6f6f", width: 1, type: [3, 3] } },
      { ...lineBase, name: "sellside", xAxisIndex: 0, yAxisIndex: 0, data: sellsideTrend, z: 2, lineStyle: { color: "#ff4500", width: 1, type: [2, 3] } },
      // moving averages
      { ...lineBase, name: "maSlow", xAxisIndex: 0, yAxisIndex: 0, data: maSlow, z: 3, smooth: 0.3, lineStyle: { color: "#ffd700", width: 1 } },
      { ...lineBase, name: "maFast", xAxisIndex: 0, yAxisIndex: 0, data: maFast, z: 3, smooth: 0.3, lineStyle: { color: "#b4c8c8", width: 1 } },
      // candles
      { type: "custom", name: "EURUSD", xAxisIndex: 0, yAxisIndex: 0, z: 4, silent: true, animation: false,
        renderItem: renderCandle, encode: { x: 0, y: [1, 2, 3, 4] }, data: candleData },
      // volumes
      { type: "custom", name: "Volumes", xAxisIndex: 1, yAxisIndex: 1, z: 4, silent: true, animation: false,
        renderItem: renderVolume, encode: { x: 0, y: 1 }, data: volData },
      // MACD
      { type: "custom", name: "MACD", xAxisIndex: 2, yAxisIndex: 2, z: 3, silent: true, animation: false,
        renderItem: renderHist, encode: { x: 0, y: 1 }, data: histData },
      { ...lineBase, name: "Signal", xAxisIndex: 2, yAxisIndex: 2, data: macdSignal, z: 4, smooth: 0.3, lineStyle: { color: "#3d63dd", width: 1 } },
      { ...lineBase, name: "divA", xAxisIndex: 2, yAxisIndex: 2, data: macdDivA, z: 5, lineStyle: { color: "#ff4500", width: 1, type: [3, 3] } },
      { ...lineBase, name: "divB", xAxisIndex: 2, yAxisIndex: 2, data: macdDivB, z: 5, lineStyle: { color: "#ff4500", width: 1, type: [2, 3] } },
    ],
    graphic: [
      { type: "rect", silent: true, z: 100, shape: { x: 1.5, y: 1.5, width: 1873, height: 732 }, style: { fill: "none", stroke: FRAME, lineWidth: 1 } },
      { type: "rect", silent: true, z: 100, shape: { x: 1.5, y: 737.5, width: 1873, height: 110 }, style: { fill: "none", stroke: FRAME, lineWidth: 1 } },
      { type: "rect", silent: true, z: 100, shape: { x: 1.5, y: 849.5, width: 1873, height: 54.5 }, style: { fill: "none", stroke: FRAME, lineWidth: 1 } },
      { type: "rect", silent: true, z: 100, shape: { x: 1913, y: 0, width: 3, height: 924 }, style: { fill: "#ebebeb" } },
      { type: "rect", silent: true, z: 100, shape: { x: 0, y: 921, width: 1916, height: 3 }, style: { fill: "#ebebeb" } },
      { type: "polygon", silent: true, z: 100, shape: { points: [[1476, 2], [1485, 2], [1480.5, 7]] }, style: { fill: "#a8a8a8" } },
      { type: "text", silent: true, z: 100, left: 7, top: 4, style: { text: symbolTitle, fill: "#3b5874", font: "10px " + FONT } },
      { type: "text", silent: true, z: 100, left: 6, top: 740, style: { text: volumeLabel, fill: "#3b5874", font: "10px " + FONT } },
      { type: "text", silent: true, z: 100, left: 6, top: 855, style: { text: macdLabel, fill: "#3b5874", font: "10px " + FONT } },
    ],
  };
}

export default function App() {
  const ref = useRef<HTMLDivElement>(null);
  useEffect(() => {
    if (!ref.current) return;
    const chart = echarts.init(ref.current, null, { renderer: "svg", width: 1916, height: 924 });
    chart.setOption(buildOption() as any);
    return () => chart.dispose();
  }, []);
  return <div ref={ref} style={{ position: "fixed", left: 0, top: 0, width: 1916, height: 924, background: BG }} />;
}
